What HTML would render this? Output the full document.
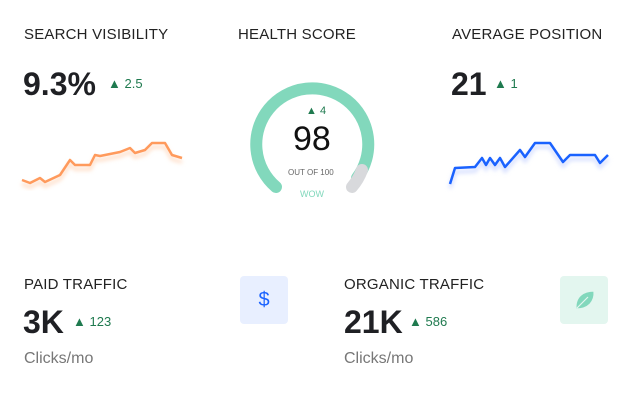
<!DOCTYPE html>
<html><head><meta charset="utf-8"><style>
body{margin:0;width:632px;height:400px;background:#fff;font-family:"Liberation Sans",sans-serif;position:relative;overflow:hidden;color:#222}
.t{position:absolute;font-size:15px;color:#222;letter-spacing:0.2px}
.big{position:absolute;font-size:32px;font-weight:bold;color:#1f2024}
.d{position:absolute;font-size:13px;color:#1f7a4f}
.s{position:absolute;font-size:16px;color:#777}
.box{position:absolute;width:48px;height:48px;border-radius:4px}
</style></head><body>
<div class="t" style="left:24px;top:26px">SEARCH VISIBILITY</div>
<div class="t" style="left:238px;top:26px">HEALTH SCORE</div>
<div class="t" style="left:452px;top:26px">AVERAGE POSITION</div>
<div class="big" style="left:23px;top:66px">9.3%</div>
<div class="d" style="left:108px;top:76px">▲ 2.5</div>
<div class="big" style="left:451px;top:66px">21</div>
<div class="d" style="left:494px;top:76px">▲ 1</div>
<svg width="632" height="400" style="position:absolute;left:0;top:0">
<defs><filter id="f"><feGaussianBlur stdDeviation="2"/></filter></defs>
<polyline fill="none" stroke="#ffd9bf" stroke-width="3" filter="url(#f)" transform="translate(0,4)" points="22,180 30,183 40,178 45,182 60,175 70,160 75,165 90,165 95,155 100,156 120,152 130,148 135,153 145,150 152,143 165,143 172,155 182,158"/>
<polyline fill="none" stroke="#ff9a5c" stroke-width="2.5" stroke-linejoin="round" points="22,180 30,183 40,178 45,182 60,175 70,160 75,165 90,165 95,155 100,156 120,152 130,148 135,153 145,150 152,143 165,143 172,155 182,158"/>
<polyline fill="none" stroke="#cfd9ff" stroke-width="3" filter="url(#f)" transform="translate(0,4)" points="450,184 455,168 475,167 482,158 486,165 490,158 495,165 500,158 505,167 520,150 525,157 535,143 550,143 563,162 570,155 595,155 600,163 608,155"/>
<polyline fill="none" stroke="#1a62ff" stroke-width="2.5" stroke-linejoin="round" points="450,184 455,168 475,167 482,158 486,165 490,158 495,165 500,158 505,167 520,150 525,157 535,143 550,143 563,162 570,155 595,155 600,163 608,155"/>
<path d="M276,187 A56,56 0 1 1 357,178" fill="none" stroke="#82d8bc" stroke-width="12" stroke-linecap="round"/>
<path d="M362,170 A56,56 0 0 1 352,187" fill="none" stroke="#d8d9dc" stroke-width="12" stroke-linecap="round"/>
</svg>
<div class="d" style="left:306px;top:105px;font-size:11px">▲ 4</div>
<div style="position:absolute;left:293px;top:120px;font-size:34px;color:#111">98</div>
<div style="position:absolute;left:288px;top:168px;font-size:8px;color:#666">OUT OF 100</div>
<div style="position:absolute;left:300px;top:189px;font-size:9px;color:#82d8bc">WOW</div>
<div class="t" style="left:24px;top:276px">PAID TRAFFIC</div>
<div class="t" style="left:344px;top:276px">ORGANIC TRAFFIC</div>
<div class="big" style="left:23px;top:304px">3K</div>
<div class="d" style="left:73px;top:314px">▲ 123</div>
<div class="big" style="left:344px;top:304px">21K</div>
<div class="d" style="left:409px;top:314px">▲ 586</div>
<div class="s" style="left:24px;top:350px">Clicks/mo</div>
<div class="s" style="left:344px;top:350px">Clicks/mo</div>
<div class="box" style="left:240px;top:276px;background:#e8efff;color:#1a62ff;font-size:20px;text-align:center;line-height:48px">$</div>
<div class="box" style="left:560px;top:276px;background:#e3f6ef"><svg width="48" height="48"><path d="M16,33 C15,20 24,15 34,15 C35,26 28,33 16,33 Z M17,32 L28,21" fill="#82d8bc" stroke="#e3f6ef" stroke-width="1.2"/></svg></div>
</body></html>
